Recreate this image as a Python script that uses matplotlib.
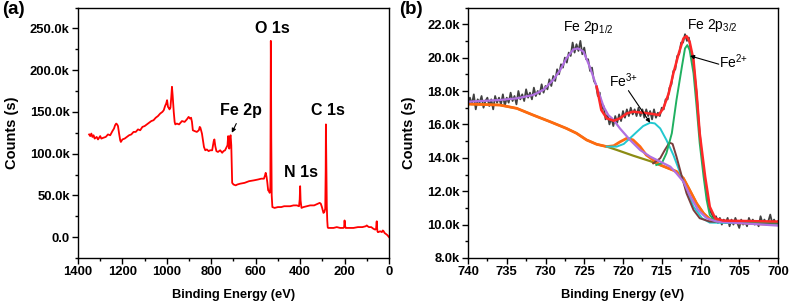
import matplotlib
matplotlib.use("Agg")
import matplotlib.pyplot as plt
import numpy as np
from matplotlib.ticker import MultipleLocator, FuncFormatter

plt.rcParams['font.family'] = 'Liberation Sans'
plt.rcParams['font.weight'] = 'bold'
plt.rcParams['axes.labelweight'] = 'bold'
plt.rcParams['mathtext.fontset'] = 'custom'
plt.rcParams['mathtext.rm'] = 'Liberation Sans'
plt.rcParams['mathtext.default'] = 'regular'

# survey spectrum (binding energy in eV, counts in k)
survey_e = [1350, 1345, 1340, 1335, 1330, 1325, 1316, 1310, 1300, 1295, 1286, 1275, 1265, 1255, 1245,
            1238, 1233, 1228, 1224, 1220, 1215, 1210, 1207, 1200, 1190, 1180, 1170, 1160, 1150, 1140,
            1130, 1120, 1110, 1100, 1090, 1080, 1070, 1060, 1050, 1040, 1030, 1020, 1014, 1008, 1003,
            999, 995, 992, 988, 984, 980, 977, 974, 969, 965, 962, 955, 945, 932, 920,
            910, 902, 896, 891, 887, 883, 875, 865, 856, 852, 849, 845, 842, 838, 833,
            827, 820, 812, 805, 796, 792, 789, 786, 782, 777, 770, 760, 751, 745, 738,
            731, 727, 724, 722, 719, 716, 713, 710, 708, 706, 700, 690, 683, 670, 650,
            630, 608, 590, 575, 563, 558, 555, 551, 548, 544, 540, 537, 534, 532, 531,
            530, 528, 525, 515, 500, 485, 472, 460, 445, 430, 415, 405, 402, 400, 398,
            394, 385, 370, 355, 337, 320, 312, 307, 302, 298, 295, 291, 287, 285, 284,
            283, 281, 280, 278, 276, 274, 265, 250, 235, 220, 205, 202, 200, 198, 195,
            193, 180, 160, 140, 120, 105, 100, 96, 90, 80, 70, 62, 58, 56, 55,
            54, 52, 50, 48, 40, 32, 28, 24, 20, 15, 10, 6, 3, 0]
survey_k = [123, 121, 124, 120, 122, 118, 120, 117, 121, 118, 119, 120, 123, 122, 127,
            130, 134, 136, 135, 133, 124, 116, 114, 117, 118, 120, 122, 123, 126, 126,
            129, 128, 132, 133, 135, 137, 139, 140, 143, 145, 148, 150, 152, 157, 160,
            164, 156, 155, 153, 155, 168, 180, 170, 150, 138, 135, 136, 135, 139, 138,
            141, 144, 142, 143, 138, 128, 127, 126, 128, 132, 131, 127, 124, 117, 108,
            104, 105, 103, 104, 104, 110, 115, 117, 109, 103, 102, 104, 101, 103, 104,
            108, 110, 121, 118, 106, 120, 122, 110, 88, 65, 63, 62, 63, 64, 65,
            67, 68, 69, 70, 70, 74, 77, 72, 66, 56, 55, 53, 60, 235, 190,
            120, 50, 36, 35, 36, 36, 37, 37, 37, 38, 38, 37, 45, 61, 44,
            35, 36, 37, 38, 38, 40, 41, 40, 36, 32, 29, 30, 34, 80, 135,
            110, 60, 37, 20, 12, 11, 11, 11, 12, 11, 11, 12, 20, 14, 11,
            11, 11, 11, 12, 12, 13, 14, 13, 12, 12, 10, 9, 10, 18, 19,
            12, 7, 6, 6, 7, 6, 8, 7, 5, 4, 3, 2, 1, 0]

# Fe 2p high-resolution raw data, 740 -> 700 eV in 0.25 eV steps (counts in k)
fe_e = np.arange(740, 699.9, -0.25)
fe_raw = [17.1, 17.6, 17.2, 17.8, 16.9, 17.5, 17.3, 17.7, 17.0, 17.4,
          17.6, 17.1, 17.5, 16.9, 17.7, 17.3, 17.6, 17.2, 17.8, 17.1,
          17.6, 17.3, 17.9, 17.4, 17.7, 17.2, 18.0, 17.5, 17.8, 17.4,
          18.1, 17.6, 17.9, 17.5, 18.2, 17.7, 18.0, 17.8, 18.4, 17.9,
          18.3, 18.1, 18.7, 18.3, 18.9, 18.6, 19.3, 19.0, 19.6, 19.4,
          20.0, 19.7, 20.3, 20.1, 20.9, 20.3, 20.8, 20.4, 21.0, 20.2,
          20.6, 19.9, 19.9, 19.2, 19.4, 18.6, 18.4, 17.7, 17.9, 16.9,
          17.1, 16.3, 16.6, 16.0, 16.4, 15.9, 16.5, 16.1, 16.6, 16.2,
          16.8, 16.4, 16.9, 16.5, 17.0, 16.6, 16.9, 16.5, 17.0, 16.5,
          16.9, 16.4, 16.9, 16.5, 16.8, 16.3, 16.9, 16.4, 16.7, 16.5,
          17.0, 16.9, 17.5, 17.5, 18.2, 18.4, 19.2, 19.3, 20.1, 20.2,
          20.9, 20.9, 21.4, 21.0, 21.2, 20.4, 20.1, 19.0, 17.9, 16.3,
          15.0, 13.8, 12.9, 11.9, 11.3, 10.8, 10.6, 10.3, 10.5, 10.1,
          10.4, 10.0, 10.3, 10.1, 10.4, 9.9, 10.3, 10.0, 10.4, 10.1,
          9.8, 10.3, 10.0, 10.2, 9.9, 10.4, 10.1, 10.3, 10.0, 10.2,
          9.9, 10.5, 10.1, 10.3, 10.0, 10.2, 10.6, 10.1, 10.3, 10.0,
          10.2]

# background (olive)
bg_e = [740, 735.9, 733.7, 731.6, 729.4, 727.3, 726.0, 724.7, 723.4, 722.1, 720.8, 718.7,
        716.5, 715.2, 714.4, 713.1, 712.2, 711.4, 710.5, 709.6, 708.8, 707.5, 705.8, 700]
bg_k = [17.22, 17.16, 16.96, 16.56, 16.16, 15.76, 15.47, 15.07, 14.81, 14.67, 14.47, 14.13,
        13.80, 13.57, 13.42, 13.18, 12.77, 12.07, 11.27, 10.67, 10.32, 10.18, 10.12, 10.02]

# satellite + background (orange)
sat_e = [740, 735.9, 733.7, 731.6, 729.4, 727.3, 726.0, 724.7, 723.4, 722.1, 721.2, 720.4,
         719.5, 718.7, 717.8, 717.0, 716.1, 715.2, 714.4, 713.1, 712.2, 711.4, 710.5, 709.6,
         708.8, 707.5, 705.8, 700]
sat_k = [17.22, 17.16, 16.96, 16.56, 16.16, 15.76, 15.47, 15.07, 14.81, 14.67, 14.72, 14.95,
         15.17, 15.07, 14.67, 14.17, 13.87, 13.57, 13.42, 13.18, 12.77, 12.07, 11.27, 10.67,
         10.32, 10.18, 10.12, 10.0]

# Fe 2p1/2 component (purple)
p12_e = [740, 735.9, 733.7, 731.6, 730.3, 729.0, 728.1, 727.3, 726.4, 725.8, 725.1, 724.3,
         723.4, 722.5, 721.9, 721.2, 720.4, 719.1, 717.8, 716.5, 715.2, 713.9, 713.1, 712.2,
         711.4, 710.3, 709.2, 707.9, 700]
p12_k = [17.36, 17.46, 17.56, 17.76, 18.06, 18.66, 19.26, 19.96, 20.49, 20.55, 20.36, 19.46,
         18.26, 17.06, 16.56, 16.26, 15.76, 15.07, 14.47, 14.07, 13.77, 13.47, 13.07, 12.57,
         11.77, 10.87, 10.38, 10.18, 9.94]

# Fe3+ component (cyan)
fe3_e = [722.1, 720.8, 719.9, 719.1, 718.2, 717.4, 716.5, 715.9, 715.2, 714.4, 713.5,
         712.6, 711.8, 710.9, 709.8, 708.8, 700]
fe3_k = [14.67, 14.67, 14.83, 15.17, 15.56, 15.90, 16.10, 16.06, 15.76, 15.07, 14.17,
         13.07, 12.07, 11.07, 10.38, 10.12, 10.05]

# small component at 714 eV (brown)
p714_e = [716.1, 715.2, 714.6, 714.0, 713.6, 713.1, 712.4, 711.8, 710.9, 710.1, 708.8, 700]
p714_k = [13.67, 13.97, 14.47, 14.91, 14.83, 14.07, 12.87, 11.87, 10.87, 10.38, 10.18, 10.08]

# Fe2+ component (green)
fe2_e = [715.7, 715.0, 714.4, 713.7, 713.1, 712.4, 712.0, 711.7, 711.4, 710.9, 710.5,
         710.1, 709.6, 709.2, 708.8, 708.1, 700]
fe2_k = [13.57, 13.67, 14.27, 15.47, 17.46, 19.46, 20.55, 20.75, 20.45, 19.06, 17.06,
         14.87, 12.87, 11.47, 10.57, 10.18, 10.12]

# envelope (red)
env_e = [723.4, 722.8, 722.1, 721.2, 720.4, 719.5, 718.7, 717.4, 716.1, 715.4, 714.8,
         714.1, 713.5, 712.8, 712.2, 711.8, 711.4, 710.9, 710.5, 710.1, 709.4, 708.8,
         708.1, 707.1, 700]
env_k = [18.26, 16.86, 16.36, 16.22, 16.36, 16.66, 16.76, 16.70, 16.62, 16.56, 16.96,
         17.86, 19.06, 20.26, 21.15, 21.29, 20.95, 19.86, 17.86, 15.47, 12.87, 11.07,
         10.38, 10.24, 10.18]

fig = plt.figure(figsize=(7.9, 3.04), dpi=100)
ax1 = fig.add_axes([78 / 790, 46 / 304, 311 / 790, 250.5 / 304])
ax2 = fig.add_axes([468 / 790, 46 / 304, 310 / 790, 250.5 / 304])


def style(ax):
    for s in ax.spines.values():
        s.set_linewidth(1.0)
    ax.tick_params(which='both', direction='out', top=False, right=False, width=1.0)
    ax.tick_params(which='major', length=4, labelsize=9.4, pad=2)
    ax.tick_params(which='minor', length=2)
    ax.set_xlabel('Binding Energy (eV)', fontsize=9.3, labelpad=8)
    ax.set_ylabel('Counts (s)', fontsize=10.5, labelpad=8)


# (a) survey
ax1.plot(survey_e, np.array(survey_k) * 1000, color='#ff0000', lw=1.3)
ax1.set_xlim(1400, 0)
ax1.set_ylim(-25000, 275000)
ax1.xaxis.set_major_locator(MultipleLocator(200))
ax1.xaxis.set_minor_locator(MultipleLocator(100))
ax1.yaxis.set_major_locator(MultipleLocator(50000))
ax1.yaxis.set_minor_locator(MultipleLocator(25000))
ax1.yaxis.set_major_formatter(FuncFormatter(lambda v, p: '0.0' if abs(v) < 1 else f'{v / 1000:.1f}k'))
style(ax1)

ax1.text(524, 250000, 'O 1s', ha='center', va='center', fontsize=11.5)
ax1.text(275, 152000, 'C 1s', ha='center', va='center', fontsize=11.5)
ax1.text(397, 77000, 'N 1s', ha='center', va='center', fontsize=11.5)
ax1.text(668, 152000, 'Fe 2p', ha='center', va='center', fontsize=11.5)
ax1.annotate('', xy=(713, 122000), xytext=(682, 139000),
             arrowprops=dict(arrowstyle='-|>', color='black', lw=0.8, mutation_scale=6))

# (b) Fe 2p
ax2.plot(fe_e, np.array(fe_raw) * 1000, color='#404040', lw=1.3)
ax2.plot(bg_e, np.array(bg_k) * 1000, color='#8c8c14', lw=1.6)
ax2.plot(sat_e, np.array(sat_k) * 1000, color='#ff6a10', lw=2.0)
ax2.plot(fe3_e, np.array(fe3_k) * 1000, color='#22c8d0', lw=1.4)
ax2.plot(p714_e, np.array(p714_k) * 1000, color='#7a3c3c', lw=1.4)
ax2.plot(fe2_e, np.array(fe2_k) * 1000, color='#20b060', lw=1.4)
ax2.plot(p12_e, np.array(p12_k) * 1000, color='#b070e0', lw=1.6)
ax2.plot(env_e, np.array(env_k) * 1000, color='#ff2828', lw=1.8)
ax2.set_xlim(740, 700)
ax2.set_ylim(8000, 23000)
ax2.xaxis.set_major_locator(MultipleLocator(5))
ax2.xaxis.set_minor_locator(MultipleLocator(2.5))
ax2.yaxis.set_major_locator(MultipleLocator(2000))
ax2.yaxis.set_minor_locator(MultipleLocator(1000))
ax2.yaxis.set_major_formatter(FuncFormatter(lambda v, p: f'{v / 1000:.1f}k'))
style(ax2)

ax2.text(724.5, 21800, 'Fe 2p$_{1/2}$', ha='center', va='center', fontsize=10, fontweight='normal')
ax2.text(708.5, 21900, 'Fe 2p$_{3/2}$', ha='center', va='center', fontsize=10, fontweight='normal')
ax2.text(705.8, 19740, 'Fe$^{2{+}}$', ha='center', va='center', fontsize=10, fontweight='normal')
ax2.text(720.0, 18600, 'Fe$^{3{+}}$', ha='center', va='center', fontsize=10, fontweight='normal')
ax2.annotate('', xy=(711.7, 20150), xytext=(707.3, 19560),
             arrowprops=dict(arrowstyle='-|>', color='black', lw=0.8, mutation_scale=6))
ax2.annotate('', xy=(716.3, 15960), xytext=(719.5, 18160),
             arrowprops=dict(arrowstyle='-|>', color='black', lw=0.8, mutation_scale=6))

fig.text(2 / 790, 1 - 1 / 304, '(a)', ha='left', va='top', fontsize=13.5)
fig.text(399 / 790, 1 - 1 / 304, '(b)', ha='left', va='top', fontsize=13.5)

fig.savefig('out.png', dpi=100)
